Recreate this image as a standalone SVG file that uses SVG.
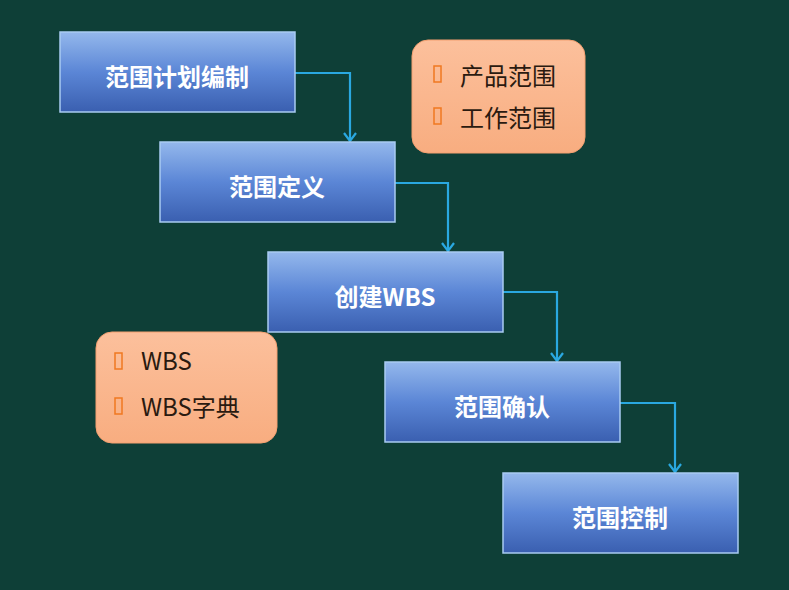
<svg xmlns="http://www.w3.org/2000/svg" width="789" height="590" viewBox="0 0 789 590">
<defs>
<linearGradient id="gb" x1="0" y1="0" x2="0" y2="1">
<stop offset="0" stop-color="#94b8ec"/>
<stop offset="0.5" stop-color="#5b86d6"/>
<stop offset="1" stop-color="#3a5fb0"/>
</linearGradient>
<linearGradient id="go" x1="0" y1="0" x2="0" y2="1">
<stop offset="0" stop-color="#fcc09c"/>
<stop offset="1" stop-color="#f8ad80"/>
</linearGradient>
<marker id="arr" viewBox="0 0 14 14" refX="13" refY="7" markerWidth="14" markerHeight="14" markerUnits="userSpaceOnUse" orient="auto">
<path d="M5,1 L13,7 L5,13" fill="none" stroke="#2aa8e0" stroke-width="2.2"/>
</marker>
</defs>
<style>
.box{fill:url(#gb);stroke:#a9cbf2;stroke-width:1.5}
.bt{font-family:"Noto Sans CJK SC","Liberation Sans",sans-serif;font-size:24px;font-weight:bold;fill:#ffffff;text-anchor:middle}
.ob{fill:url(#go);stroke:#f4a070;stroke-width:1}
.ot{font-family:"Noto Sans CJK SC","Liberation Sans",sans-serif;font-size:24px;fill:#2a1a10}
.bul{fill:none;stroke:#f07820;stroke-width:1.5}
.con{fill:none;stroke:#2aa8e0;stroke-width:2.2;marker-end:url(#arr)}
</style>
<rect width="789" height="590" fill="#0e3f37"/>
<g id="connectors">
<path class="con" d="M295,73 H350 V141"/>
<path class="con" d="M395,183 H448 V251"/>
<path class="con" d="M503,292 H557 V361"/>
<path class="con" d="M620,403 H675 V472"/>
</g>
<g id="n1"><rect class="box" x="60" y="32" width="235" height="80"/><text class="bt" x="177" y="86">范围计划编制</text></g>
<g id="n2"><rect class="box" x="160" y="142" width="235" height="80"/><text class="bt" x="277" y="196">范围定义</text></g>
<g id="n3"><rect class="box" x="268" y="252" width="235" height="80"/><text class="bt" x="385" y="306">创建WBS</text></g>
<g id="n4"><rect class="box" x="385" y="362" width="235" height="80"/><text class="bt" x="502" y="416">范围确认</text></g>
<g id="n5"><rect class="box" x="503" y="473" width="235" height="80"/><text class="bt" x="620" y="527">范围控制</text></g>
<g id="note1">
<rect class="ob" x="412" y="40" width="173" height="113" rx="16"/>
<rect class="bul" x="434" y="66" width="7" height="16"/>
<text class="ot" x="460" y="85">产品范围</text>
<rect class="bul" x="434" y="108" width="7" height="16"/>
<text class="ot" x="460" y="127">工作范围</text>
</g>
<g id="note2">
<rect class="ob" x="96" y="332" width="181" height="111" rx="16"/>
<rect class="bul" x="115" y="353" width="7" height="16"/>
<text class="ot" x="141" y="370">WBS</text>
<rect class="bul" x="115" y="398" width="7" height="16"/>
<text class="ot" x="141" y="416">WBS字典</text>
</g>
</svg>
